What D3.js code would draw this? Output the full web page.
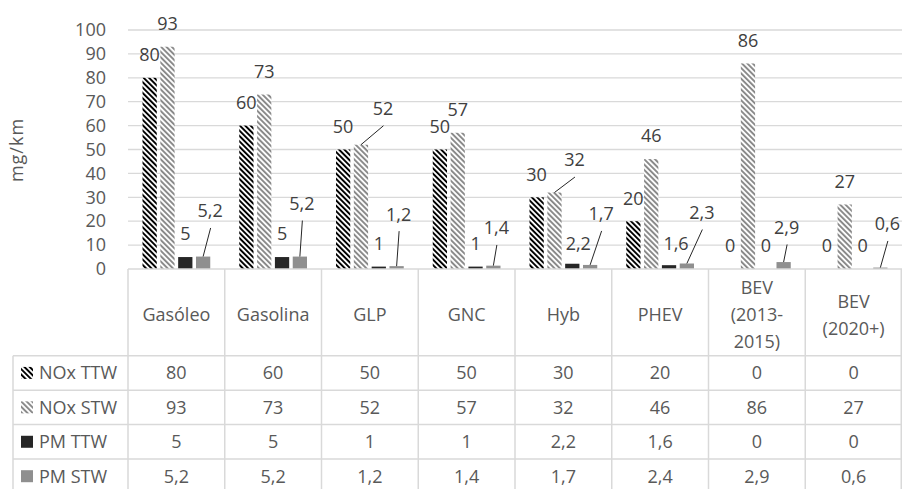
<!DOCTYPE html>
<html><head><meta charset="utf-8">
<script src="https://cdn.jsdelivr.net/npm/d3@7"></script>
<style>
  body { margin: 0; background: #fff; }
  text { font-family: "Open Sans", "Noto Sans", sans-serif; }
</style>
</head><body>
<svg id="chart" width="902" height="489"></svg>
<script>
// ---- data ----
const categories = ["Gasóleo", "Gasolina", "GLP", "GNC", "Hyb", "PHEV", "BEV (2013-2015)", "BEV (2020+)"];
const seriesNames = ["NOx TTW", "NOx STW", "PM TTW", "PM STW"];
const noxTtw = [80, 60, 50, 50, 30, 20, 0, 0];
const noxStw = [93, 73, 52, 57, 32, 46, 86, 27];
const pmTtw  = [5, 5, 1, 1, 2.2, 1.6, 0, 0];
const pmStw  = [5.2, 5.2, 1.2, 1.4, 1.7, 2.3, 2.9, 0.6];
const pmStwTable = [5.2, 5.2, 1.2, 1.4, 1.7, 2.4, 2.9, 0.6];
const yTicks = [0, 10, 20, 30, 40, 50, 60, 70, 80, 90, 100];
const yTitle = "mg/km";

const seriesValues = [noxTtw, noxStw, pmTtw, pmStw];
const tableValues  = [noxTtw, noxStw, pmTtw, pmStwTable];

// ---- layout ----
const W = 902, H = 489;
const plot = { left: 128, right: 902, top: 30, bottom: 269 };
const headerBottom = 355.7;
const rowH = 34.43;
const tableLeft = 13;
const FS = 18;          // font size
const CAP = 0.714 * FS; // cap height of the face

const C = {
  axisText: "#595959",
  labelText: "#404040",
  grid: "#d9d9d9",
  border: "#d9d9d9",
  pmTtw: "#262626",
  pmStw: "#8f8f8f",
  stripeDark: "#000000",
  stripeLight: "#8a8a8a",
  leader: "#262626"
};

const locale = d3.formatLocale({ decimal: ",", thousands: ".", grouping: [3], currency: ["", "€"] });
const fmt = v => locale.format("~g")(v);

const svg = d3.select("#chart");
svg.append("rect").attr("width", W).attr("height", H).attr("fill", "#fff");

// ---- hatch patterns ----
const defs = svg.append("defs");
function hatch(id, color) {
  const p = defs.append("pattern")
    .attr("id", id)
    .attr("patternUnits", "userSpaceOnUse")
    .attr("width", 3.8).attr("height", 10)
    .attr("patternTransform", "rotate(-45)");
  p.append("rect").attr("width", 3.8).attr("height", 10).attr("fill", "#fff");
  p.append("rect").attr("width", 1.95).attr("height", 10).attr("fill", color);
}
hatch("hatchDark", C.stripeDark);
hatch("hatchLight", C.stripeLight);
const fills = ["url(#hatchDark)", "url(#hatchLight)", C.pmTtw, C.pmStw];

// ---- scales ----
const y = d3.scaleLinear().domain([0, 100]).range([plot.bottom, plot.top]);
const x0 = d3.scaleBand().domain(categories).range([plot.left, plot.right]).paddingInner(0).paddingOuter(0);
const bw = x0.bandwidth();
const x1 = d3.scaleBand().domain(seriesNames).range([14.5, bw - 14.5]).paddingInner(0.2).paddingOuter(0);

// ---- gridlines ----
svg.append("g").selectAll("line").data(yTicks.filter(t => t > 0)).join("line")
  .attr("x1", plot.left).attr("x2", plot.right)
  .attr("y1", d => y(d)).attr("y2", d => y(d))
  .attr("stroke", C.grid).attr("stroke-width", 1.3);

// ---- y axis ----
const yAxis = d3.axisLeft(y).tickValues(yTicks).tickSize(0).tickPadding(22);
const gy = svg.append("g").attr("transform", `translate(${plot.left},0)`).call(yAxis);
gy.select(".domain").remove();
gy.selectAll("text")
  .attr("font-family", '"Open Sans", sans-serif')
  .attr("font-size", FS).attr("fill", C.axisText);

svg.append("text")
  .attr("transform", `translate(23,150) rotate(-90)`)
  .attr("text-anchor", "middle")
  .attr("font-size", FS).attr("fill", C.axisText)
  .attr("letter-spacing", 1)
  .text(yTitle);

// ---- bars ----
const bars = [];
seriesNames.forEach((s, si) => {
  categories.forEach((c, ci) => {
    bars.push({ s, si, c, ci, v: seriesValues[si][ci] });
  });
});
svg.append("g").selectAll("rect").data(bars).join("rect")
  .attr("x", d => x0(d.c) + x1(d.s))
  .attr("width", x1.bandwidth())
  .attr("y", d => y(d.v))
  .attr("height", d => y(0) - y(d.v))
  .attr("fill", d => fills[d.si]);

// ---- data labels ----
// offsets (px) for labels pulled away from their default spot above the bar
const labelOffsets = {
  "PM STW|0": { dx: 7, dy: -22.6, leader: true },
  "PM STW|1": { dx: 2, dy: -30, leader: true },
  "PM STW|2": { dx: 2, dy: -29, leader: true },
  "PM STW|3": { dx: 3, dy: -14.7, leader: true },
  "PM STW|4": { dx: 11, dy: -28, leader: true },
  "PM STW|5": { dx: 15, dy: -28, leader: true },
  "PM STW|6": { dx: 3, dy: -11.6, leader: true },
  "PM STW|7": { dx: 7, dy: -20.6, leader: true },
  "NOx STW|2": { dx: 22, dy: -13, leader: true },
  "NOx STW|4": { dx: 20, dy: -9.5, leader: true },
  "PM TTW|4": { dx: 6, dy: 3, leader: false },
  "PM TTW|5": { dx: 7, dy: 1, leader: false }
};
const labelGap = 23;
const labels = bars.map(d => {
  const cx = x0(d.c) + x1(d.s) + x1.bandwidth() / 2;
  const top = y(d.v);
  const off = labelOffsets[d.s + "|" + d.ci] || { dx: 0, dy: 0, leader: false };
  return { ...d, bx: cx, top, lx: cx + off.dx, ly: top - labelGap + off.dy, leader: off.leader };
});
svg.append("g").selectAll("line").data(labels.filter(d => d.leader)).join("line")
  .attr("x1", d => d.lx + 0.5).attr("y1", d => d.ly + 17)
  .attr("x2", d => d.bx).attr("y2", d => d.top)
  .attr("stroke", C.leader).attr("stroke-width", 1);
svg.append("g").selectAll("text").data(labels).join("text")
  .attr("x", d => d.lx)
  .attr("y", d => d.ly + CAP / 2)
  .attr("text-anchor", "middle")
  .attr("font-size", FS).attr("fill", C.labelText)
  .text(d => fmt(d.v));

// ---- data table ----
const tbl = svg.append("g");
const nRows = seriesNames.length;
const tableBottom = headerBottom + nRows * rowH;
// horizontal rules
tbl.append("line").attr("x1", plot.left).attr("x2", plot.right)
  .attr("y1", plot.bottom).attr("y2", plot.bottom)
  .attr("stroke", C.border).attr("stroke-width", 1.5);
d3.range(nRows + 1).forEach(r => {
  const yy = headerBottom + r * rowH;
  tbl.append("line").attr("x1", tableLeft).attr("x2", plot.right)
    .attr("y1", yy).attr("y2", yy)
    .attr("stroke", C.border).attr("stroke-width", 1.5);
});
// vertical rules
const colEdges = categories.map(c => x0(c)).concat([plot.right - 0.75]);
tbl.selectAll("line.v").data(colEdges).join("line").attr("class", "v")
  .attr("x1", d => d).attr("x2", d => d)
  .attr("y1", plot.bottom).attr("y2", tableBottom)
  .attr("stroke", C.border).attr("stroke-width", 1.5);
tbl.append("line").attr("x1", tableLeft).attr("x2", tableLeft)
  .attr("y1", headerBottom).attr("y2", tableBottom)
  .attr("stroke", C.border).attr("stroke-width", 1.5);

// category headers, wrapped to the column width
const measure = svg.append("text").attr("font-size", FS).attr("x", -999).attr("y", -999);
function wrap(label, maxW) {
  const toks = label.match(/[^\s-]+-?/g);
  const lines = [];
  let line = toks[0];
  for (let i = 1; i < toks.length; i++) {
    const cand = line + (line.endsWith("-") ? "" : " ") + toks[i];
    measure.text(cand);
    if (measure.node().getComputedTextLength() > maxW) { lines.push(line); line = toks[i]; }
    else line = cand;
  }
  lines.push(line);
  return lines;
}
const lineH = 27;
const headerMid = 315;
categories.forEach(c => {
  const lines = wrap(c, bw - 10);
  const t = tbl.append("text")
    .attr("text-anchor", "middle")
    .attr("font-size", FS).attr("fill", C.axisText);
  const firstBase = headerMid - (lines.length - 1) * lineH / 2 + CAP / 2;
  lines.forEach((ln, i) => {
    t.append("tspan").attr("x", x0(c) + bw / 2).attr("y", firstBase + i * lineH).text(ln);
  });
});
measure.remove();

// row legend keys + names
seriesNames.forEach((s, si) => {
  const mid = headerBottom + si * rowH + rowH / 2;
  tbl.append("rect").attr("x", 21).attr("y", mid - 6).attr("width", 12).attr("height", 12)
    .attr("fill", fills[si]);
  tbl.append("text").attr("x", 39).attr("y", mid + CAP / 2)
    .attr("font-size", FS).attr("fill", C.axisText).text(s);
  categories.forEach((c, ci) => {
    tbl.append("text").attr("x", x0(c) + bw / 2).attr("y", mid + CAP / 2)
      .attr("text-anchor", "middle")
      .attr("font-size", FS).attr("fill", C.axisText)
      .text(fmt(tableValues[si][ci]));
  });
});
</script>
</body></html>
